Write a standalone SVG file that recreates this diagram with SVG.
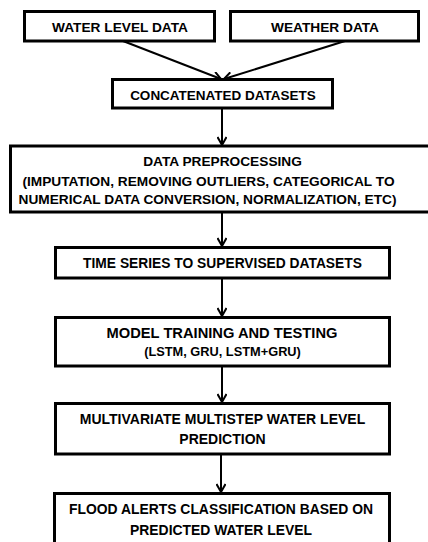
<svg xmlns="http://www.w3.org/2000/svg" width="428" height="542" viewBox="0 0 428 542">
<defs>
<style>
.box{fill:#fff;stroke:#000;stroke-width:3}
.t{font-family:"Liberation Sans",Arial,sans-serif;font-weight:bold;font-size:13.7px;fill:#000;text-anchor:middle}
.c{stroke:#000;stroke-width:2;fill:none}
</style>
<marker id="ah" viewBox="0 0 10 10" refX="9" refY="5" markerWidth="10" markerHeight="10" markerUnits="userSpaceOnUse" orient="auto">
<path d="M1,0.5 L9,5 L1,9.5" fill="none" stroke="#000" stroke-width="2"/>
</marker>
</defs>
<rect width="428" height="542" fill="#fff"/>
<g id="connectors">
<line class="c" x1="123" y1="41" x2="221" y2="79" marker-end="url(#ah)"/>
<line class="c" x1="345" y1="41" x2="224" y2="79" marker-end="url(#ah)"/>
<line class="c" x1="222" y1="108" x2="222" y2="145" marker-end="url(#ah)"/>
<line class="c" x1="222" y1="212" x2="222" y2="246" marker-end="url(#ah)"/>
<line class="c" x1="222" y1="278" x2="222" y2="316" marker-end="url(#ah)"/>
<line class="c" x1="222" y1="366" x2="222" y2="402" marker-end="url(#ah)"/>
<line class="c" x1="221" y1="454" x2="221" y2="492" marker-end="url(#ah)"/>
</g>
<g id="water-level-data">
<rect class="box" x="24.5" y="11.5" width="190" height="29.5"/>
<text class="t" x="120" y="32">WATER LEVEL DATA</text>
</g>
<g id="weather-data">
<rect class="box" x="230.5" y="11.5" width="188" height="29.5"/>
<text class="t" x="325" y="32">WEATHER DATA</text>
</g>
<g id="concatenated-datasets">
<rect class="box" x="112.5" y="79.5" width="220" height="28.5"/>
<text class="t" x="223" y="99.5" style="font-size:13.5px">CONCATENATED DATASETS</text>
</g>
<g id="data-preprocessing">
<rect class="box" x="10.5" y="146" width="420" height="66"/>
<text class="t" x="222.5" y="166">DATA PREPROCESSING</text>
<text class="t" x="208.5" y="186">(IMPUTATION, REMOVING OUTLIERS, CATEGORICAL TO</text>
<text class="t" x="207.5" y="204">NUMERICAL DATA CONVERSION, NORMALIZATION, ETC)</text>
</g>
<g id="time-series">
<rect class="box" x="55.5" y="247.5" width="334" height="30.5"/>
<text class="t" x="222.5" y="267.5" style="font-size:13.8px">TIME SERIES TO SUPERVISED DATASETS</text>
</g>
<g id="model-training">
<rect class="box" x="55.5" y="317.5" width="334" height="48.5"/>
<text class="t" x="222" y="337.5" style="font-size:14.7px">MODEL TRAINING AND TESTING</text>
<text class="t" x="222.5" y="355.5" style="font-size:12.8px">(LSTM, GRU, LSTM+GRU)</text>
</g>
<g id="multivariate-prediction">
<rect class="box" x="55.5" y="403.5" width="334" height="50.5"/>
<text class="t" x="222.5" y="424" style="font-size:14px">MULTIVARIATE MULTISTEP WATER LEVEL</text>
<text class="t" x="222.5" y="444" style="font-size:14px">PREDICTION</text>
</g>
<g id="flood-alerts">
<rect class="box" x="54.5" y="493.5" width="335" height="52"/>
<text class="t" x="221" y="514" style="font-size:13.9px">FLOOD ALERTS CLASSIFICATION BASED ON</text>
<text class="t" x="221" y="535" style="font-size:13.9px">PREDICTED WATER LEVEL</text>
</g>
</svg>
